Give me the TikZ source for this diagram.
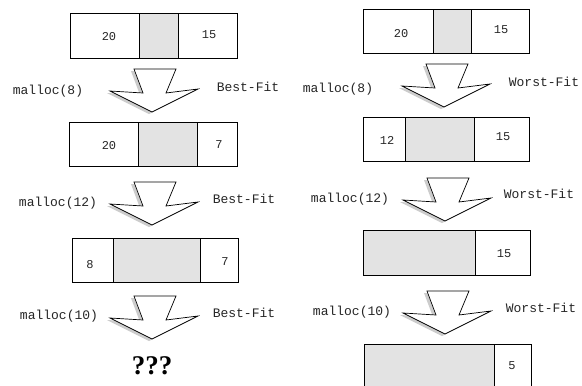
\documentclass[tikz,border=0pt]{standalone}
\usepackage{fontspec}
\setmonofont{Liberation Mono}
\newfontfamily\qfont{Liberation Serif}
\begin{document}
\begin{tikzpicture}[x=1pt,y=-1pt,
  lbl/.style={font=\ttfamily\fontsize{13}{15}\selectfont,inner sep=0pt,text=black!85},
  num/.style={font=\ttfamily\fontsize{12}{14}\selectfont,inner sep=0pt,text=black!85},
  cell/.style={draw=black,line width=0.7pt,fill=white},
  used/.style={draw=black,line width=0.7pt,fill=black!11},
  bigarrow/.pic={
    \fill[black!20] (-21,-41) -- (-12,-17) -- (-45,-19) -- (-3,2) -- (43,-21) -- (11,-17) -- (21,-41) -- cycle;
    \draw[fill=white,line width=0.7pt,line join=miter] (-18,-43) -- (-9,-19) -- (-42,-21) -- (0,0) -- (46,-23) -- (14,-19) -- (24,-43) -- cycle;
  }]
\clip (0,0) rectangle (582,386);
\fill[white] (0,0) rectangle (582,386);

% ---------- left column (Best-Fit) ----------
\draw[cell] (70,13) rectangle (237,58);
\draw[used] (139,13) rectangle (178,58);
\node[num] (l1a) at (109,37) {20};
\node[num] (l1b) at (209,35) {15};

\pic at (152,112) {bigarrow};
\node[lbl] (lm1) at (48,91) {malloc(8)};
\node[lbl] (lb1) at (248,87) {Best-Fit};

\draw[cell] (69,122) rectangle (237,166);
\draw[used] (138,122) rectangle (197,166);
\node[num] (l2a) at (109,146) {20};
\node[num] (l2b) at (219,145) {7};

\pic at (152,225) {bigarrow};
\node[lbl] (lm2) at (58,203) {malloc(12)};
\node[lbl] (lb2) at (244,199) {Best-Fit};

\draw[cell] (72,238) rectangle (238,282);
\draw[used] (113,238) rectangle (200,282);
\node[num] (l3a) at (90,265) {8};
\node[num] (l3b) at (225,262) {7};

\pic at (152,339) {bigarrow};
\node[lbl] (lm3) at (59,316) {malloc(10)};
\node[lbl] (lb3) at (244,313) {Best-Fit};

\node[inner sep=0pt,font=\qfont\bfseries\fontsize{27}{30}\selectfont] (q) at (152,366) {???};

% ---------- right column (Worst-Fit) ----------
\draw[cell] (363,9) rectangle (529,53);
\draw[used] (433,9) rectangle (471,53);
\node[num] (r1a) at (401,34) {20};
\node[num] (r1b) at (501,30) {15};

\pic at (444,107) {bigarrow};
\node[lbl] (rm1) at (338,89) {malloc(8)};
\node[lbl] (rw1) at (544,82) {Worst-Fit};

\draw[cell] (363,117) rectangle (529,161);
\draw[used] (405,117) rectangle (474,161);
\node[num] (r2a) at (387,140) {12};
\node[num] (r2b) at (503,137) {15};

\pic at (445,221) {bigarrow};
\node[lbl] (rm2) at (350,199) {malloc(12)};
\node[lbl] (rw2) at (539,194) {Worst-Fit};

\draw[cell] (363,230) rectangle (530,275);
\draw[used] (363,230) rectangle (475,275);
\node[num] (r3b) at (504,254) {15};

\pic at (445,334) {bigarrow};
\node[lbl] (rm3) at (352,312) {malloc(10)};
\node[lbl] (rw3) at (541,308) {Worst-Fit};

\draw[cell] (364,344) rectangle (531,400);
\draw[used] (364,344) rectangle (494,400);
\node[num] (r4b) at (512,366) {5};
\end{tikzpicture}
\end{document}
